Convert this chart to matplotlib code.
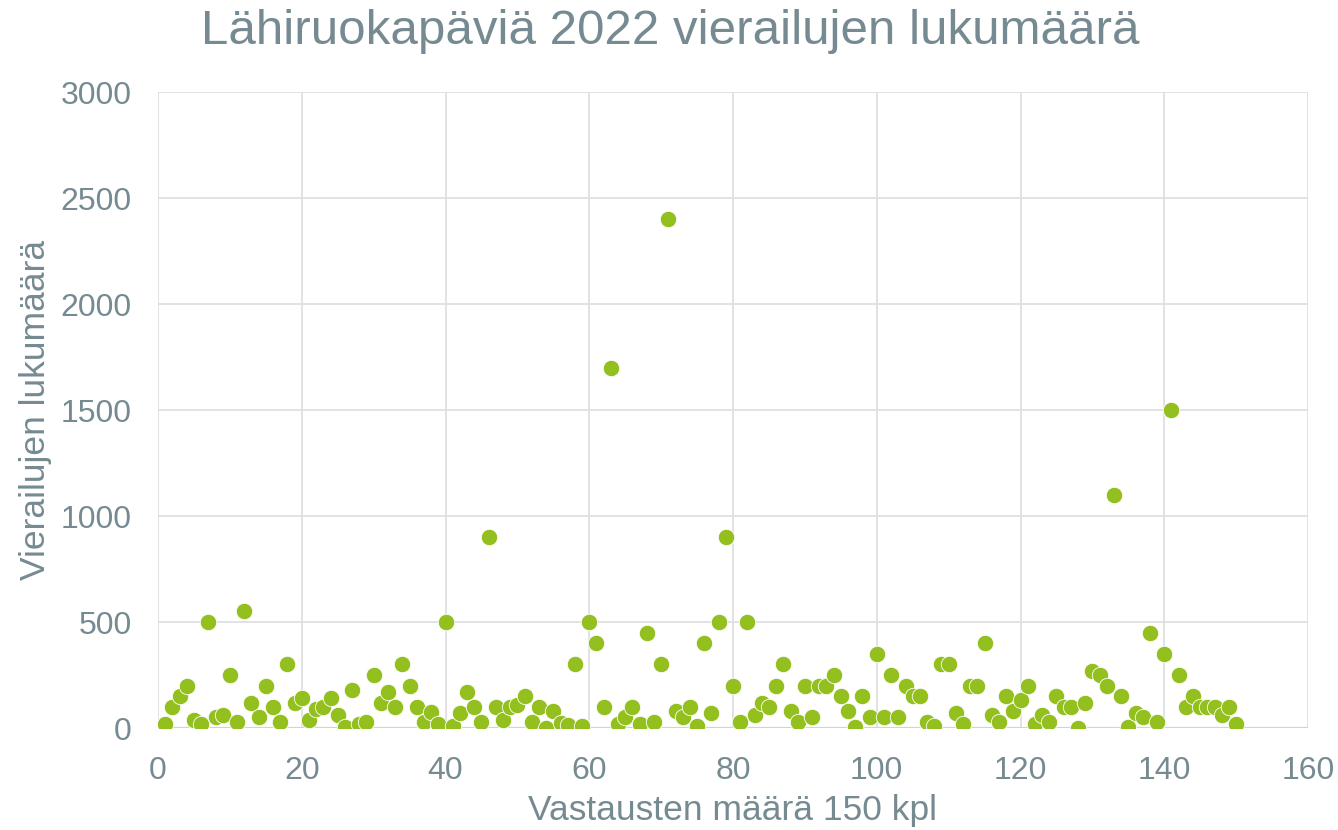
import matplotlib
matplotlib.use("Agg")
import matplotlib.pyplot as plt

plt.rcParams['font.family'] = ['Liberation Sans', 'DejaVu Sans']

title = "Lähiruokapäviä 2022 vierailujen lukumäärä"
x_label = "Vastausten määrä 150 kpl"
y_label = "Vierailujen lukumäärä"

visits = [
    20, 100, 150, 200, 40, 20, 500, 50, 60, 250,
    30, 550, 120, 50, 200, 100, 30, 300, 120, 140,
    40, 90, 100, 140, 60, 5, 180, 20, 30, 250,
    120, 170, 100, 300, 200, 100, 30, 75, 20, 500,
    10, 70, 170, 100, 30, 900, 100, 40, 100, 110,
    150, 30, 100, 0, 80, 25, 15, 300, 10, 500,
    400, 100, 1700, 20, 50, 100, 20, 450, 30, 300,
    2400, 80, 50, 100, 10, 400, 70, 500, 900, 200,
    30, 500, 60, 120, 100, 200, 300, 80, 30, 200,
    50, 200, 200, 250, 150, 80, 5, 150, 50, 350,
    50, 250, 50, 200, 150, 150, 30, 10, 300, 300,
    70, 20, 200, 200, 400, 60, 30, 150, 80, 130,
    200, 20, 60, 30, 150, 100, 100, 0, 120, 270,
    250, 200, 1100, 150, 5, 70, 50, 450, 30, 350,
    1500, 250, 100, 150, 100, 100, 100, 60, 100, 20,
]
respondent = list(range(1, len(visits) + 1))

x_ticks = [0, 20, 40, 60, 80, 100, 120, 140, 160]
y_ticks = [0, 500, 1000, 1500, 2000, 2500, 3000]

text_color = "#768A92"
grid_color = "#DDDFE0"
marker_color = "#93C01F"

fig = plt.figure(figsize=(13.38, 8.3), dpi=100)
ax = fig.add_axes([158/1338, 1-728/830, (1308-158)/1338, (728-92)/830])

ax.scatter(respondent, visits, s=140, color=marker_color, edgecolors='white',
           linewidths=0.6, zorder=3)

ax.set_xlim(0, 160)
ax.set_ylim(0, 3000)
ax.set_xticks(x_ticks)
ax.set_yticks(y_ticks)
ax.grid(True, color=grid_color, linewidth=1.3, zorder=0)
ax.set_axisbelow(True)
for s in ax.spines.values():
    s.set_visible(False)
ax.axhline(0, color="#D0D4D6", linewidth=1.6, zorder=1)
ax.tick_params(axis='both', length=0, labelsize=23, colors=text_color)
ax.tick_params(axis='x', pad=20)
ax.tick_params(axis='y', pad=19)

ax.set_xlabel(x_label, fontsize=25.5, color=text_color, labelpad=6)
ax.set_ylabel(y_label, fontsize=25.5, color=text_color, labelpad=6)
fig.text(670/1338, 1 - 31/830, title, fontsize=35.5, color=text_color,
         ha='center', va='center')

fig.savefig("out.png", dpi=100)
